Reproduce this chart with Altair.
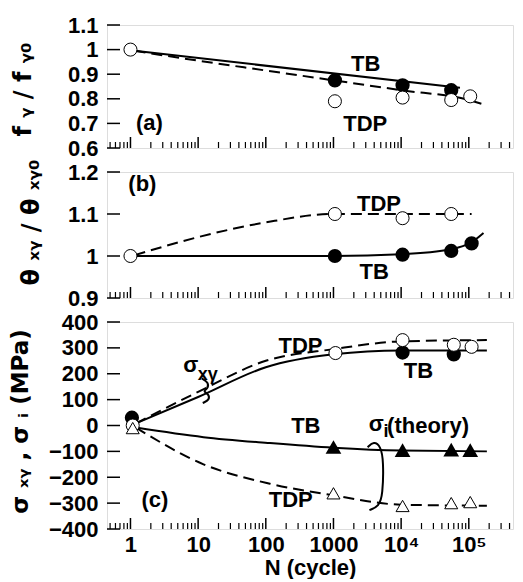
import altair as alt
import pandas as pd

FONT = "Liberation Sans, DejaVu Sans, sans-serif"
TFONT = "DejaVu Sans, Liberation Sans, sans-serif"
W = 406
XDOM = [0.45, 4.5e5]

# ---------------- data ----------------
# panel (a)  f_gamma / f_gamma0
a_tb_N = [1050, 10500, 55000]
a_tb_v = [0.875, 0.855, 0.835]
a_tdp_N = [1.0, 1050, 10500, 55000, 105000]
a_tdp_v = [1.0, 0.79, 0.805, 0.795, 0.81]
a_tbline_N = [1.15, 74000]
a_tbline_v = [0.995, 0.845]
a_tdpline_N = [1.15, 10, 100, 1000, 10000, 100000, 175000]
a_tdpline_v = [0.995, 0.955, 0.915, 0.875, 0.835, 0.795, 0.775]

# panel (b)  theta_xgamma / theta_xgamma0
b_tb_N = [1050, 10500, 55000, 110000]
b_tb_v = [1.0, 1.003, 1.012, 1.03]
b_tdp_N = [1.0, 1050, 10500, 55000]
b_tdp_v = [1.0, 1.1, 1.09, 1.1]
b_tbline_N = [1.15, 100, 1000, 10000, 55000, 110000, 165000]
b_tbline_v = [1.0, 1.0, 1.0, 1.004, 1.016, 1.033, 1.055]
b_tdpline_N = [1.15, 10, 100, 1000, 10000, 110000]
b_tdpline_v = [1.002, 1.045, 1.08, 1.1, 1.1, 1.1]

# panel (c)  sigma_xgamma, sigma_i (MPa)
c_tbc_N = [1.05, 10500, 60000]
c_tbc_v = [30, 282, 275]
c_tdpc_N = [1.08, 1070, 10500, 60000, 110000]
c_tdpc_v = [0, 280, 330, 312, 304]
c_tbt_N = [1000, 10500, 55000, 105000]
c_tbt_v = [-85, -97, -95, -97]
c_tdpt_N = [1.08, 1000, 10500, 55000, 105000]
c_tdpt_v = [-10, -262, -311, -300, -296]
c_tbline_N = [1.2, 10, 100, 1000, 10000, 185000]
c_tbline_v = [8, 110, 225, 275, 290, 290]
c_tdpline_N = [1.2, 10, 100, 1000, 10000, 185000]
c_tdpline_v = [8, 130, 250, 295, 325, 330]
c_tbiline_N = [1.2, 12, 115, 1000, 10000, 185000]
c_tbiline_v = [-8, -45, -68, -86, -97, -100]
c_tdpiline_N = [1.2, 12, 115, 1000, 10000, 185000]
c_tdpiline_v = [-8, -150, -225, -270, -306, -310]

# brace shapes (annotation curves)
brace1_N = [11.3, 14.3, 13.9, 11.7, 14.3, 14.8, 11.7]
brace1_v = [182, 167, 141, 133, 122, 99, 87]
brace2_N = [3200, 3930, 5000, 5500, 5350, 4700, 3400]
brace2_v = [-84, -61, -80, -137, -270, -312, -327]

# annotations
a_txt = ["TB", "TDP", "(a)"]
a_txt_N = [3000, 2950, 1.9]
a_txt_v = [0.94, 0.698, 0.70]
b_txt = ["(b)", "TDP", "TB"]
b_txt_N = [1.5, 4700, 4000]
b_txt_v = [1.171, 1.123, 0.963]
c_txt = ["TDP", "TB", "TB", "TDP", "(c)", "σ", "σ"]
c_txt_N = [325, 18000, 390, 234, 2.3, 7.8, 4300]
c_txt_v = [308, 209, 0, -289, -289, 232, 5]
c_sub = ["xγ", "i"]
c_sub_N = [13.9, 6000]
c_sub_v = [194, -27]
c_theory = ["(theory)"]
c_theory_N = [6200]
c_theory_v = [0]

# axis tick values
major_ticks = [1, 10, 100, 1000, 10000, 100000]
minor_ticks = [k * 10.0 ** d for d in range(-1, 6) for k in range(2, 10)
               if XDOM[0] <= k * 10.0 ** d <= XDOM[1]]
a_yticks = [0.6, 0.7, 0.8, 0.9, 1.0, 1.1]
b_yticks = [0.9, 1.0, 1.1, 1.2]
c_yticks = [-400, -300, -200, -100, 0, 100, 200, 300, 400]

xscale = alt.Scale(type="log", domain=XDOM, nice=False)


def df(N, v, **extra):
    d = {"N": N, "v": v}
    d.update(extra)
    return pd.DataFrame(d)


def panel(h, ydom, yticks, yfmt, ytitle, titlex, titley, tsize, xaxis, lines, points, texts, braces):
    yscale = alt.Scale(domain=ydom, nice=False, zero=False)
    yaxis = alt.Axis(values=yticks, format=yfmt, title=ytitle, ticks=False, domain=False,
                     grid=False, labelFont=FONT, labelFontSize=22, labelFontWeight="bold",
                     labelColor="black", labelPadding=9, labelFlush=False, labelOverlap=False,
                     titleFont=TFONT, titleFontSize=tsize, titleFontWeight="bold", titleColor="black",
                     titleAngle=270, titleAlign="center", titleBaseline="bottom",
                     titleX=titlex, titleY=titley)
    X = lambda: alt.X("N:Q", scale=xscale, axis=xaxis)
    Y = lambda: alt.Y("v:Q", scale=yscale, axis=yaxis)
    layers = []
    for (N, v, dashed) in lines:
        m = alt.Chart(df(N, v)).mark_line(
            color="black", strokeWidth=2, interpolate="monotone",
            **({"strokeDash": [11, 6]} if dashed else {}))
        layers.append(m.encode(x=X(), y=Y()))
    for (N, v) in braces:
        layers.append(alt.Chart(df(N, v, o=list(range(len(N))))).mark_line(
            color="black", strokeWidth=2, interpolate="basis").encode(
            x=X(), y=Y(), order="o:O"))
    for (N, v, shape, filled) in points:
        if filled:
            mk = alt.Chart(df(N, v)).mark_point(shape=shape, filled=True, fill="black",
                                                 stroke="black", size=150, opacity=1)
        else:
            mk = alt.Chart(df(N, v)).mark_point(shape=shape, filled=True, fill="white",
                                                 stroke="black", strokeWidth=1, size=170, opacity=1)
        layers.append(mk.encode(x=X(), y=Y()))
    for (N, v, t, size, align) in texts:
        layers.append(alt.Chart(df(N, v, t=t)).mark_text(
            font=FONT, fontSize=size, fontWeight="bold", color="black",
            align=align, baseline="middle").encode(x=X(), y=Y(), text="t:N"))
    # inward ticks
    layers.append(alt.Chart(pd.DataFrame({"N": major_ticks})).mark_rule(
        color="black", strokeWidth=1.5).encode(x=X(), y=alt.value(h), y2=alt.value(h - 11)))
    layers.append(alt.Chart(pd.DataFrame({"N": minor_ticks})).mark_rule(
        color="black", strokeWidth=1.2).encode(x=X(), y=alt.value(h), y2=alt.value(h - 6)))
    layers.append(alt.Chart(pd.DataFrame({"v": yticks})).mark_rule(
        color="black", strokeWidth=1.5).encode(y=Y(), x=alt.value(0), x2=alt.value(13)))
    return alt.layer(*layers).properties(width=W, height=h)


pa = panel(123, [0.6, 1.1], a_yticks, ".1~f", "f ᵧ / f ᵧ₀", -72, 64, 24, None,
           lines=[(a_tbline_N, a_tbline_v, False), (a_tdpline_N, a_tdpline_v, True)],
           points=[(a_tb_N, a_tb_v, "circle", True), (a_tdp_N, a_tdp_v, "circle", False)],
           texts=[(a_txt_N, a_txt_v, a_txt, 22, "center")],
           braces=[])

pb = panel(126, [0.9, 1.2], b_yticks, ".1~f", "θ ₓᵧ / θ ₓᵧ₀", -64, 50, 24, None,
           lines=[(b_tbline_N, b_tbline_v, False), (b_tdpline_N, b_tdpline_v, True)],
           points=[(b_tb_N, b_tb_v, "circle", True), (b_tdp_N, b_tdp_v, "circle", False)],
           texts=[(b_txt_N, b_txt_v, b_txt, 22, "center")],
           braces=[])

xaxis_c = alt.Axis(values=major_ticks, title="N (cycle)", ticks=False, domain=False, grid=False,
                   labelExpr="datum.value == 10000 ? '10⁴' : datum.value == 100000 ? '10⁵' : format(datum.value, 'd')",
                   labelFont=FONT, labelFontSize=22, labelFontWeight="bold", labelColor="black",
                   labelPadding=5, labelFlush=False, labelOverlap=False,
                   titleFont=FONT, titleFontSize=22, titleFontWeight="bold", titleColor="black",
                   titlePadding=2)

pc = panel(207, [-400, 400], c_yticks, "d", "σ ₓᵧ ,  σ ᵢ    (MPa)", -75, 99, 23, xaxis_c,
           lines=[(c_tbline_N, c_tbline_v, False), (c_tdpline_N, c_tdpline_v, True),
                  (c_tbiline_N, c_tbiline_v, False), (c_tdpiline_N, c_tdpiline_v, True)],
           points=[(c_tbc_N, c_tbc_v, "circle", True), (c_tdpc_N, c_tdpc_v, "circle", False),
                   (c_tbt_N, c_tbt_v, "triangle-up", True), (c_tdpt_N, c_tdpt_v, "triangle-up", False)],
           texts=[(c_txt_N, c_txt_v, c_txt, 22, "center"),
                  (c_sub_N, c_sub_v, c_sub, 18, "center"),
                  (c_theory_N, c_theory_v, c_theory, 22, "left")],
           braces=[(brace1_N, brace1_v), (brace2_N, brace2_v)])

chart = alt.vconcat(pa, pb, pc, spacing=24, bounds="flush").properties(
    padding={"left": 0, "top": 5, "right": 0, "bottom": 0}
).configure_view(stroke="black", strokeWidth=2).configure(background="white")

chart.save("out.html", embed_options={"renderer": "svg", "actions": False})
